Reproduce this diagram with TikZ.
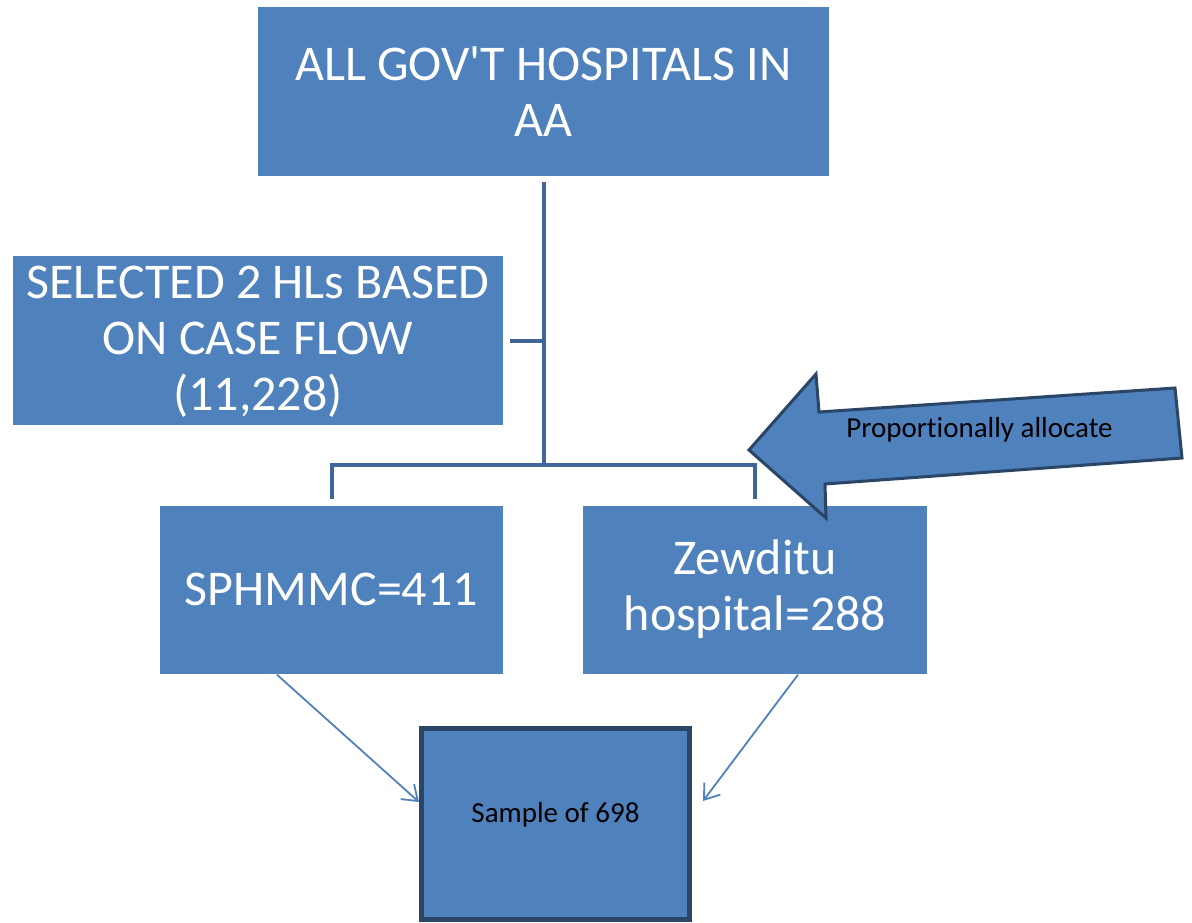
\documentclass[tikz,border=0pt]{standalone}
\usepackage{fontspec}
\setmainfont{Carlito}[Ligatures={NoCommon}]
\usetikzlibrary{arrows.meta,calc}
\definecolor{boxblue}{HTML}{4F81BD}
\definecolor{connblue}{HTML}{3F6699}
\definecolor{darkedge}{HTML}{2A4566}
\begin{document}
\begin{tikzpicture}[x=1pt,y=-1pt,
  bigbox/.style={fill=boxblue, draw=none, text=white, align=center,
    font=\fontsize{50}{56}\selectfont, inner sep=0pt},
  conn/.style={draw=connblue, line width=4pt},
  thinarrow/.style={draw=boxblue, line width=1.8pt, -{Straight Barb[length=14pt,width=20pt]}},
  smalltext/.style={font=\fontsize{29}{34}\selectfont, text=black},
  samplebox/.style={fill=boxblue, draw=darkedge, line width=5pt, smalltext,
    text height=20pt, text depth=24pt, inner sep=0pt},
  bigarrow/.style={fill=boxblue, draw=darkedge, line width=3pt, line join=miter}
]
\useasboundingbox (0,0) rectangle (1192,922);

\node[bigbox, minimum width=571pt, minimum height=169pt] (top) at (543.5,91.5)
  {ALL GOV\textquotesingle T HOSPITALS IN\\AA};
\node[bigbox, minimum width=490pt, minimum height=169pt] (sel) at (258,340.5)
  {\rule{0pt}{35pt}SELECTED 2 HLs BASED\\ON CASE FLOW\\(11,228)};
\node[bigbox, minimum width=343pt, minimum height=168pt] (sph) at (331.5,589.5)
  {SPHMMC=411};
\node[bigbox, minimum width=344pt, minimum height=168pt] (zew) at (755,589.5)
  {Zewditu\\hospital=288};
\node[samplebox, minimum width=268pt, minimum height=191pt] (samp) at (555.5,824)
  {Sample of 698};

\coordinate (jn) at (543.5,465);
\draw[conn] ($(top.south)+(0,6)$) -- (jn);
\draw[conn] ($(sel.east)+(7,0)$) -- (sel.east -| jn);
\draw[conn] ($(sph.north)+(0,-6)$) |- (jn) -| ($(zew.north)+(0,-6)$);

\draw[thinarrow] ($(sph.south)+(-54.5,1)$) -- ($(samp.north west)+(0,76)$);
\draw[thinarrow] ($(zew.south)+(43,1)$) -- ($(samp.north east)+(11,75)$);

\draw[bigarrow] (749,450) -- (816,374) -- (819,412) -- (1175,388)
  -- (1182,458) -- (825,484) -- (826,518) -- cycle;
\node[smalltext, anchor=base] (alloc) at (979.5,437) {Proport\kern0pt ionally allocate};
\end{tikzpicture}
\end{document}
